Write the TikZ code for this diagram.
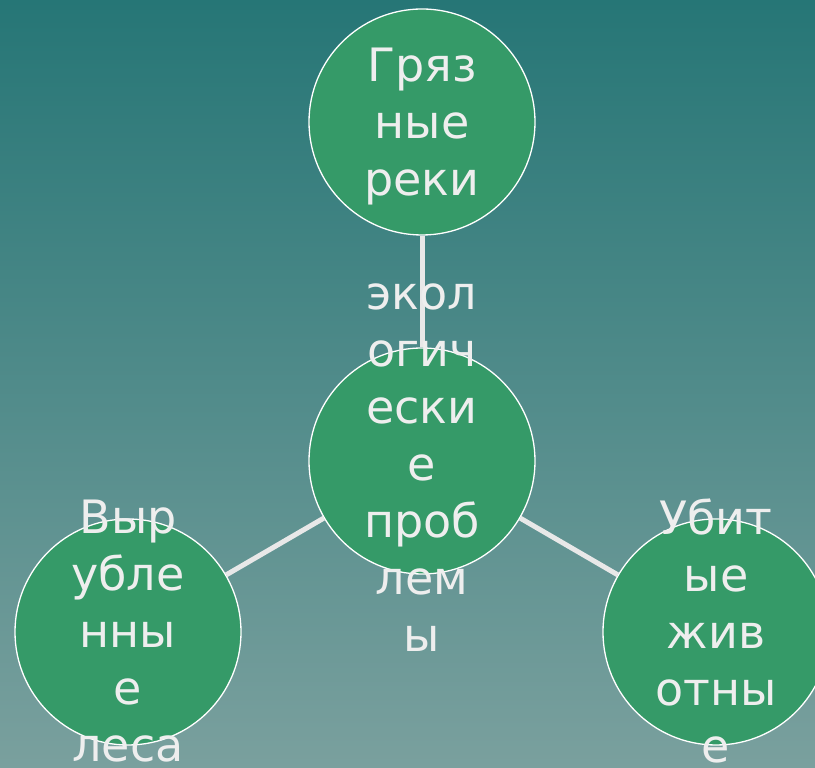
\documentclass[tikz,border=0pt]{standalone}
\usepackage{fontspec}
\setmainfont{DejaVu Sans}
\definecolor{bgtop}{HTML}{267676}
\definecolor{bgbot}{HTML}{7AA09E}
\definecolor{circfill}{HTML}{359A68}
\definecolor{txtcol}{HTML}{EEEEEE}
\definecolor{linkcol}{HTML}{E8E8E8}
\pgfdeclarelayer{bglayer}
\pgfdeclarelayer{linklayer}
\pgfsetlayers{bglayer,linklayer,main}
\begin{document}
\begin{tikzpicture}[x=1pt,y=1pt,
  bubble/.style={circle,draw=white,line width=1.3pt,fill=circfill,minimum size=226pt,inner sep=0pt},
  label/.style={text=txtcol,align=center,font=\fontsize{46}{57}\selectfont},
  link/.style={draw=linkcol,line width=5pt}]
\useasboundingbox (0,0) rectangle (815,768);
\clip (0,0) rectangle (815,768);
\begin{pgfonlayer}{bglayer}
\shade[top color=bgtop,bottom color=bgbot] (0,0) rectangle (815,768);
\end{pgfonlayer}
\node[bubble] (top) at (422,646) {};
\node[bubble] (mid) at (422,307) {};
\node[bubble] (left) at (128,136) {};
\node[bubble] (right) at (716,136) {};
\begin{pgfonlayer}{linklayer}
\path[link] (top.south) -- (mid.north);
\path[link] (mid) -- (left);
\path[link] (mid) -- (right);
\end{pgfonlayer}
\node[label] (ttop) at (422,641) {Гряз\\ные\\реки};
\node[label] (tmid) at (422,300.5) {экол\\огич\\ески\\е\\проб\\лем\\ы};
\node[label] (tleft) at (128,137) {Выр\\убле\\нны\\е\\леса};
\node[label] (tright) at (716,137) {Убит\\ые\\жив\\отны\\е};
\end{tikzpicture}
\end{document}
